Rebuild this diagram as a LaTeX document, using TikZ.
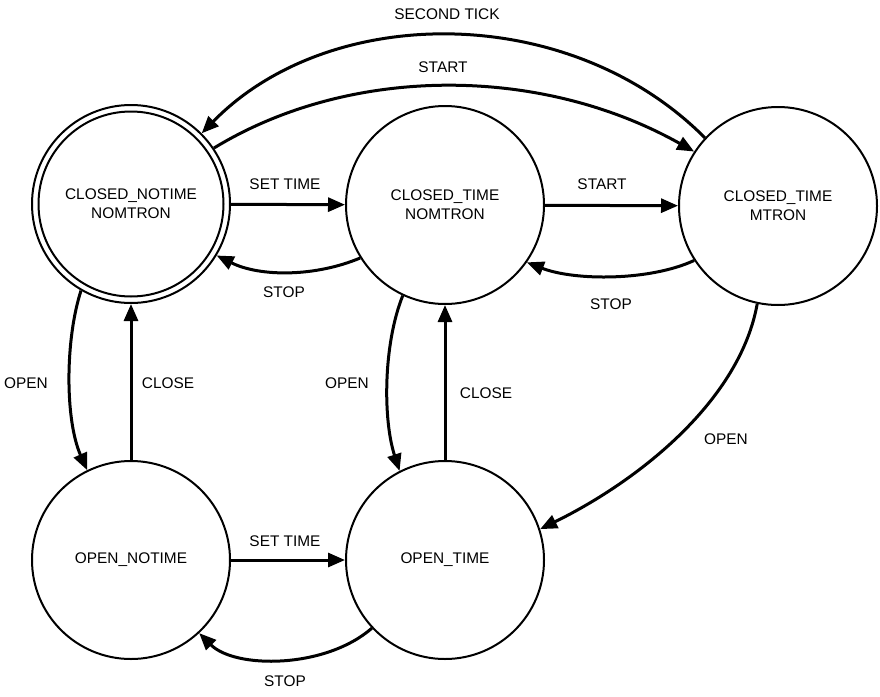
\documentclass[tikz,border=0pt]{standalone}
\usepackage{fontspec}
\setmainfont{Liberation Sans}
\usetikzlibrary{arrows.meta}
\begin{document}
\begin{tikzpicture}[x=1pt,y=-1pt,
  state/.style={circle, draw, line width=2pt, minimum size=198pt, inner sep=0pt, align=center, font=\fontsize{15.4}{19}\selectfont},
  edge/.style={line width=3pt, -{Triangle[length=17pt,width=14pt]}},
  lbl/.style={font=\fontsize{15.4}{19}\selectfont, inner sep=0pt}]
\useasboundingbox (0,0) rectangle (880,696);
\node[state] (n1) at (131,204) {CLOSED\_NOTIME\\NOMTRON};
\draw[line width=2pt] (n1.center) circle[radius=92.5pt];
\node[state] (n2) at (445,205) {CLOSED\_TIME\\NOMTRON};
\node[state] (n3) at (778,206) {CLOSED\_TIME\\MTRON};
\node[state] (n4) at (131,560) {OPEN\_NOTIME};
\node[state] (n5) at (445,560) {OPEN\_TIME};

\draw[edge] (n1) -- (n2);
\draw[edge] (n2.212) .. controls (315,277) and (260,277) .. (n1.-31);
\draw[edge] (n2) -- (n3);
\draw[edge] (n3.213) .. controls (650,281) and (575,281) .. (n2.-35);
\draw[edge] (n1.34) .. controls (350,65) and (540,65) .. (n3.147);
\draw[edge] (n3.137) .. controls (570,2) and (330,2) .. (n1.45);
\draw[edge] (n1.240) .. controls (65,340) and (65,420) .. (n4.116);
\draw[edge] (n4) -- (n1);
\draw[edge] (n2.245) .. controls (383,345) and (383,420) .. (n5.117);
\draw[edge] (n5) -- (n2);
\draw[edge] (n3.258) .. controls (740,400) and (640,480) .. (n5.18);
\draw[edge] (n4) -- (n5);
\draw[edge] (n5.223) .. controls (325,669) and (235,669) .. (n4.-47);

\node[lbl] (l1) at (447,14) {SECOND TICK};
\node[lbl] (l2) at (443,67) {START};
\node[lbl] (l3) at (285,184) {SET TIME};
\node[lbl] (l4) at (602,184) {START};
\node[lbl] (l5) at (284,292) {STOP};
\node[lbl] (l6) at (611,304) {STOP};
\node[lbl] (l7) at (26,383) {OPEN};
\node[lbl] (l8) at (168,383) {CLOSE};
\node[lbl] (l9) at (347,383) {OPEN};
\node[lbl] (l10) at (486,393) {CLOSE};
\node[lbl] (l11) at (726,439) {OPEN};
\node[lbl] (l12) at (285,541) {SET TIME};
\node[lbl] (l13) at (285,681) {STOP};
\end{tikzpicture}
\end{document}
